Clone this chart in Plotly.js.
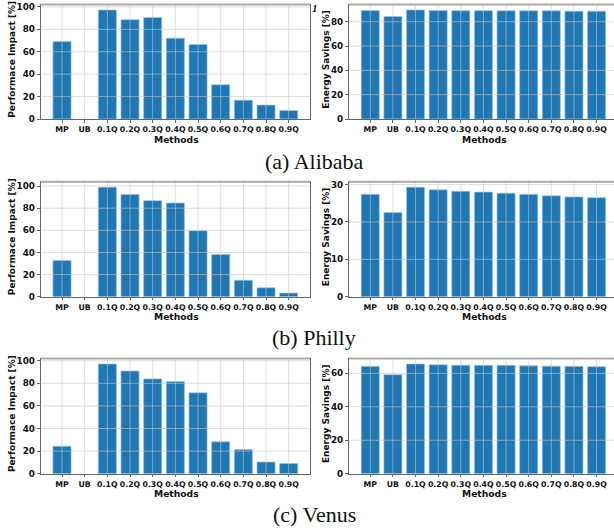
<!DOCTYPE html>
<html>
<head>
<meta charset="utf-8">
<script src="https://cdn.plot.ly/plotly-3.0.1.min.js"></script>
<style>html,body{margin:0;padding:0;background:#fff;}#chart{width:614px;height:529px;}</style>
</head>
<body>
<div id="chart"></div>
<script>
const categories = ['MP','UB','0.1Q','0.2Q','0.3Q','0.4Q','0.5Q','0.6Q','0.7Q','0.8Q','0.9Q'];
const alibabaPerf   = [69.1, 0, 97.3, 88.6, 90.6, 72.1, 66.5, 30.6, 16.8, 12.4, 7.6];
const alibabaEnergy = [89.2, 84.3, 89.7, 89.2, 89.1, 89.1, 89.0, 89.0, 89.0, 88.7, 88.7];
const phillyPerf    = [32.8, 0, 99.0, 92.4, 86.8, 84.7, 59.7, 38.2, 14.9, 8.1, 3.3];
const phillyEnergy  = [27.4, 22.5, 29.3, 28.6, 28.2, 28.0, 27.7, 27.4, 27.0, 26.7, 26.5];
const venusPerf     = [24.3, 0, 97.1, 90.9, 83.9, 81.5, 71.6, 28.2, 21.4, 10.3, 9.1];
const venusEnergy   = [64.2, 59.2, 65.6, 65.1, 64.9, 64.8, 64.8, 64.5, 64.3, 64.2, 64.0];
const captions = ['(a) Alibaba', '(b) Philly', '(c) Venus'];
const perfTitle = 'Performace Impact [%]';
const energyTitle = 'Energy Savings [%]';
const xTitle = 'Methods';

const W = 614, H = 529;
const px = v => v / W;
const py = v => 1 - v / H;

const panels = [
  {data: alibabaPerf,  dtick: 20, col: 0, row: 0},
  {data: alibabaEnergy, dtick: 20, col: 1, row: 0},
  {data: phillyPerf,   dtick: 20, col: 0, row: 1},
  {data: phillyEnergy, dtick: 10, col: 1, row: 1},
  {data: venusPerf,    dtick: 20, col: 0, row: 2},
  {data: venusEnergy,  dtick: 20, col: 1, row: 2},
];
const rowsPx = [[4.5, 119], [181.7, 296.7], [358.5, 473.7]];
const colsPx = [[40.7, 310], [349, 614]];
const colRanges = [[-0.94, 10.94], [-0.94, 10.77]];

const FONT = 'DejaVu Sans';
const traces = [];
const layout = {
  width: W, height: H,
  margin: {l: 0, r: 0, t: 0, b: 0},
  paper_bgcolor: '#fff', plot_bgcolor: '#fff',
  showlegend: false,
  bargap: 0.2,
  shapes: [], annotations: []
};

panels.forEach((p, i) => {
  const n = i + 1;
  const xa = 'xaxis' + (n === 1 ? '' : n);
  const ya = 'yaxis' + (n === 1 ? '' : n);
  const xr = 'x' + (n === 1 ? '' : n);
  const yr = 'y' + (n === 1 ? '' : n);
  const ymax = Math.max(...p.data) * 1.05;
  traces.push({
    type: 'bar', x: categories, y: p.data, xaxis: xr, yaxis: yr,
    marker: {color: '#1f77b4', line: {color: '#9cc3e4', width: p.data.map(v => v > 0 ? 0.7 : 0)}},
    hoverinfo: 'skip'
  });
  const [x0, x1] = colsPx[p.col];
  const [t, b] = rowsPx[p.row];
  layout[xa] = {
    domain: [px(x0), px(x1)], anchor: yr, type: 'category',
    categoryorder: 'array', categoryarray: categories,
    range: colRanges[p.col], fixedrange: true,
    showgrid: false, zeroline: false,
    showline: true, linecolor: '#666', linewidth: 1, mirror: true,
    ticks: 'outside', ticklen: 2.5, tickcolor: '#666', tickangle: 0,
    tickfont: {family: FONT, size: 7.8, color: '#111', weight: 'bold'}
  };
  layout[ya] = {
    domain: [py(b), py(t)], anchor: xr,
    range: [0, ymax], dtick: p.dtick, tick0: 0, fixedrange: true,
    showgrid: false, zeroline: false,
    showline: true, linecolor: '#666', linewidth: 1, mirror: true,
    ticks: 'outside', ticklen: 3, tickcolor: '#666',
    tickfont: {family: FONT, size: 8.8, color: '#111', weight: 'bold'}
  };
  const gl = {color: 'rgba(200,200,200,0.75)', width: 0.8};
  categories.forEach(c => {
    layout.shapes.push({type: 'line', layer: 'above', xref: xr, yref: yr + ' domain',
      x0: c, x1: c, y0: 0, y1: 1, line: gl});
  });
  for (let v = p.dtick; v < ymax; v += p.dtick) {
    layout.shapes.push({type: 'line', layer: 'above', xref: xr + ' domain', yref: yr,
      x0: 0, x1: 1, y0: v, y1: v, line: gl});
  }
  layout.shapes.push({type: 'line', layer: 'above', xref: xr + ' domain', yref: yr + ' domain',
    x0: 0, x1: 1, y0: 1, y1: 1, line: {color: '#aaa', width: 2}});
  const yc = (t + b) / 2;
  layout.annotations.push({
    text: p.col === 0 ? perfTitle : energyTitle,
    xref: 'paper', yref: 'paper', x: px(p.col === 0 ? 12 : 326), y: py(yc - 2),
    textangle: -90, showarrow: false, xanchor: 'center', yanchor: 'middle',
    font: {family: FONT, size: 9, color: '#111', weight: 'bold'}
  });
  layout.annotations.push({
    text: xTitle, xref: 'paper', yref: 'paper',
    x: px(p.col === 0 ? 176 : 484), y: py(b + 20),
    showarrow: false, xanchor: 'center', yanchor: 'middle',
    font: {family: FONT, size: 9.2, color: '#111', weight: 'bold'}
  });
});

const capY = [161.5, 337, 514];
captions.forEach((c, i) => {
  layout.annotations.push({
    text: c, xref: 'paper', yref: 'paper', x: px(314), y: py(capY[i]),
    showarrow: false, xanchor: 'center', yanchor: 'middle',
    font: {family: 'Liberation Serif', size: 22, color: '#111'}
  });
});
layout.annotations.push({
  text: '<b><i>1</i></b>', xref: 'paper', yref: 'paper', x: px(315), y: py(8),
  showarrow: false, xanchor: 'center', yanchor: 'middle',
  font: {family: 'Liberation Serif', size: 11, color: '#111'}
});

Plotly.newPlot('chart', traces, layout, {staticPlot: true});
</script>
</body>
</html>
